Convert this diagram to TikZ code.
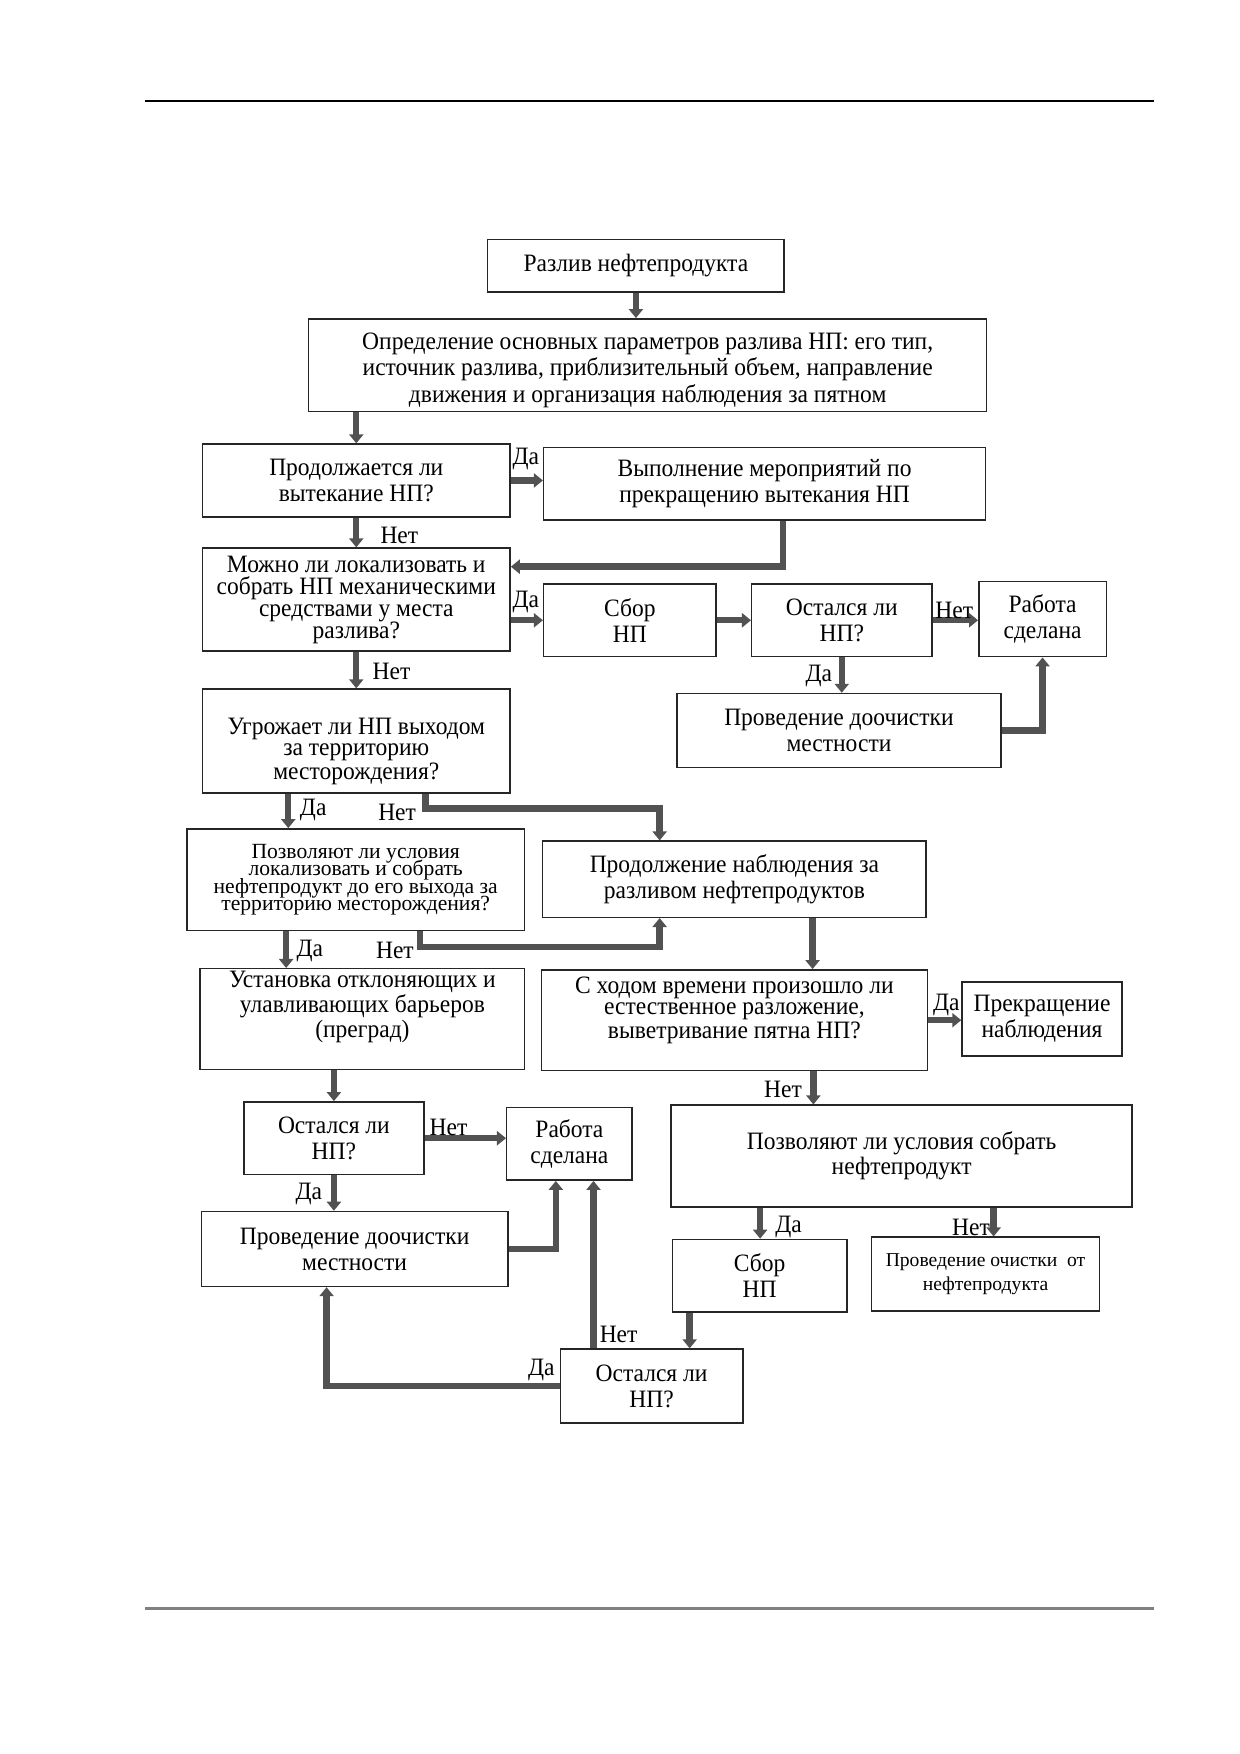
\documentclass[tikz,border=0pt]{standalone}
\usepackage{fontspec}
\setmainfont[FakeStretch=0.94]{Liberation Serif}
\newfontfamily\plainserif{Liberation Serif}
\usetikzlibrary{arrows.meta,calc}
\tikzset{
  box/.style={draw=black!85, line width=0.75pt, rectangle, inner sep=0pt, align=center,
    font={\fontsize{12.5}{13}\selectfont}},
  sz/.style 2 args={minimum width=#1*0.5591pt, minimum height=#2*0.5591pt},
  arr/.style={line width=3.2pt, draw=black!68, line join=miter,
    -{Triangle[length=4.5pt,width=7pt]}},
  lbl/.style={inner sep=0pt, font={\fontsize{12.5}{13}\selectfont}},
}
\begin{document}
\begin{tikzpicture}[x=0.5591pt,y=-0.5591pt]
\useasboundingbox (0,0) rectangle (1108,1568);
\fill[white] (0,0) rectangle (1108,1568);
\draw[line width=0.9pt, black] (130,90) -- (1032,90);
\draw[line width=1.5pt, black!50] (130,1438) -- (1032,1438);

\node[box, sz={265}{47}] (b1) at (568.5,237.5) {Разлив нефтепродукта};
\node[box, sz={606}{83},
  label={[align=center, inner sep=0pt, yshift=-2.5pt, font={\fontsize{12.5}{13.2}\selectfont}]center:Определение основных параметров разлива НП: его тип,\\ источник разлива, приблизительный объем, направление\\ движения и организация наблюдения за пятном}] (b2) at (579,326.5) {};
\node[box, sz={275}{65}] (b3) at (318.5,429.5) {Продолжается ли\\вытекание НП?};
\node[box, sz={395}{65}] (b4) at (683.5,432.5) {Выполнение мероприятий по\\прекращению вытекания НП};
\node[box, sz={275}{92}, font={\fontsize{12.5}{11}\selectfont}] (b5) at (318.5,536) {Можно ли локализовать и\\собрать НП механическими\\средствами у места\\разлива?};
\node[box, sz={154}{65}] (b6) at (563,554.5) {Сбор\\НП};
\node[box, sz={161}{65}] (b7) at (752.5,554.5) {Остался ли\\НП?};
\node[box, sz={114}{67}] (b8) at (932,553.5) {Работа\\сделана};
\node[box, sz={290}{66}] (b9) at (750,653) {Проведение доочистки\\местности};
\node[box, sz={275}{93},
  label={[align=center, inner sep=0pt, yshift=-5pt, font={\fontsize{12.5}{10.6}\selectfont}]center:Угрожает ли НП выходом\\за территорию\\месторождения?}] (b10) at (318.5,662.5) {};
\node[box, sz={302}{91}, font={\plainserif\fontsize{10.8}{8.6}\selectfont\lineskiplimit=-20pt}] (b11) at (318,786.5) {Позволяют ли условия\\локализовать и собрать\\нефтепродукт до его выхода за\\территорию месторождения?};
\node[box, sz={343}{68}] (b12) at (656.5,786) {Продолжение наблюдения за\\разливом нефтепродуктов};
\node[box, sz={290}{90},
  label={[align=center, inner sep=0pt, yshift=6pt, font={\fontsize{12.5}{10.6}\selectfont}]center:Установка отклоняющих и\\улавливающих барьеров\\(преград)}] (b13) at (324,911) {};
\node[box, sz={345}{90},
  label={[align=center, inner sep=0pt, yshift=5pt, font={\fontsize{12.5}{10.6}\selectfont}]center:С ходом времени произошло ли\\естественное разложение,\\выветривание пятна НП?}] (b14) at (656.5,912) {};
\node[box, sz={143}{66}] (b15) at (931.5,911) {Прекращение\\наблюдения};
\node[box, sz={161}{65}] (b16) at (298.5,1017.5) {Остался ли\\НП?};
\node[box, sz={112}{65}] (b17) at (509,1022.5) {Работа\\сделана};
\node[box, sz={274}{67}] (b18) at (317,1116.5) {Проведение доочистки\\местности};
\node[box, sz={412}{91}, font={\fontsize{12.5}{11.2}\selectfont}] (b19) at (806,1033.5) {Позволяют ли условия собрать\\нефтепродукт};
\node[box, sz={156}{65}] (b20) at (679,1140.5) {Сбор\\НП};
\node[box, sz={204}{66}, font={\plainserif\fontsize{9.8}{11.7}\selectfont}] (b21) at (881,1139) {Проведение очистки\ \ от\\нефтепродукта};
\node[box, sz={163}{66}] (b22) at (582.5,1239) {Остался ли\\НП?};

% connectors
\draw[arr] (b1.south) -- (b1.south |- b2.north);
\draw[arr] (b3.north |- b2.south) -- (b3.north);
\draw[arr] (b3.east) -- (b3.east -| b4.west);
\draw[arr] (b3.south) -- (b5.north);
\coordinate (p5) at ($(b4.south west)!0.542!(b4.south east)$);
\coordinate (q5) at ($(b5.north east)!0.185!(b5.south east)$);
\draw[arr] (p5) |- (q5);
\draw[arr] (b6.west -| b5.east) -- (b6.west);
\draw[arr] (b6.east) -- (b6.east -| b7.west);
\draw[arr] (b7.east) -- (b7.east -| b8.west);
\draw[arr] (b7.south) -- (b7.south |- b9.north);
\draw[arr] (b9.east) -| (b8.south);
\draw[arr] (b5.south) -- (b10.north);
\coordinate (p12) at ($(b10.south west)!0.28!(b10.south east)$);
\draw[arr] (p12) -- (p12 |- b11.north);
\coordinate (p13) at ($(b10.south west)!0.724!(b10.south east)$);
\coordinate (q13) at ($(b12.north west)!0.306!(b12.north east)$);
\draw[arr] (p13) -- ++(0,13) -| (q13);
\coordinate (p14) at ($(b11.south west)!0.295!(b11.south east)$);
\draw[arr] (p14) -- (p14 |- b13.north);
\coordinate (p15) at ($(b11.south west)!0.689!(b11.south east)$);
\coordinate (q15) at ($(b12.south west)!0.306!(b12.south east)$);
\draw[arr] (p15) -- ++(0,14) -| (q15);
\coordinate (p16) at ($(b12.south west)!0.703!(b12.south east)$);
\draw[arr] (p16) -- (p16 |- b14.north);
\draw[arr] (b14.east) -- (b14.east -| b15.west);
\draw[arr] (b16.north |- b13.south) -- (b16.north);
\draw[arr] (b16.east) -- (b16.east -| b17.west);
\draw[arr] (b16.south) -- (b16.south |- b18.north);
\coordinate (q21) at ($(b17.south west)!0.393!(b17.south east)$);
\draw[arr] (b18.east) -| (q21);
\coordinate (p22) at ($(b14.south west)!0.704!(b14.south east)$);
\draw[arr] (p22) -- (p22 |- b19.north);
\coordinate (p23) at ($(b19.south west)!0.194!(b19.south east)$);
\draw[arr] (p23) -- (p23 |- b20.north);
\coordinate (p24) at ($(b19.south west)!0.699!(b19.south east)$);
\draw[arr] (p24) -- (p24 |- b21.north);
\coordinate (p25) at ($(b20.south west)!0.103!(b20.south east)$);
\draw[arr] (p25) -- (p25 |- b22.north);
\coordinate (q26) at ($(b18.south west)!0.409!(b18.south east)$);
\draw[arr] (b22.west) -| (q26);
\coordinate (p27) at ($(b22.north west)!0.184!(b22.north east)$);
\draw[arr] (p27) -- (p27 |- b17.south);

% labels
\node[lbl] (l1) at (470,410) {Да};
\node[lbl] (l2) at (357,479) {Нет};
\node[lbl] (l3) at (470,538) {Да};
\node[lbl] (l4) at (853,546) {Нет};
\node[lbl] (l5) at (732,604) {Да};
\node[lbl] (l6) at (350,600) {Нет};
\node[lbl] (l7) at (280,724) {Да};
\node[lbl] (l8) at (355,726) {Нет};
\node[lbl] (l9) at (277,850) {Да};
\node[lbl] (l10) at (353,850) {Нет};
\node[lbl] (l11) at (846,898) {Да};
\node[lbl] (l12) at (401,1008) {Нет};
\node[lbl] (l13) at (276,1067) {Да};
\node[lbl] (l14) at (700,974) {Нет};
\node[lbl] (l15) at (705,1097) {Да};
\node[lbl] (l16) at (868,1097) {Нет};
\node[lbl] (l17) at (484,1225) {Да};
\node[lbl] (l18) at (553,1193) {Нет};
\end{tikzpicture}
\end{document}
